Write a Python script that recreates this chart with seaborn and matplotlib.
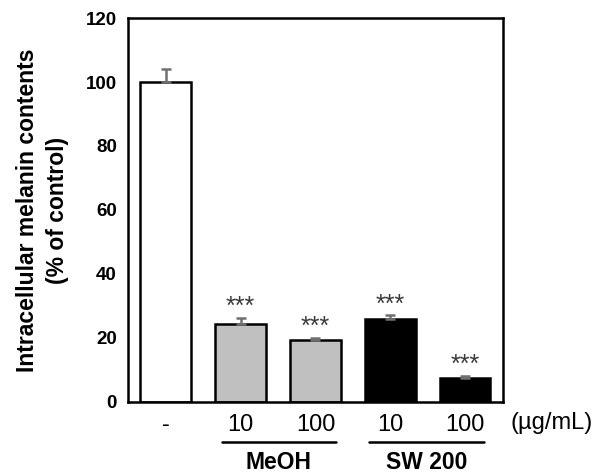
import matplotlib

matplotlib.use("Agg")
import matplotlib.pyplot as plt
import pandas as pd
import seaborn as sns

groups = ["Control", "MeOH 10", "MeOH 100", "SW200 10", "SW200 100"]
tick_labels = ["-", "10", "100", "10", "100"]
melanin = [100.0, 24.4, 19.2, 25.9, 7.6]
sd = [4.0, 1.9, 0.8, 1.1, 0.5]
bar_colors = ["white", "#c0c0c0", "#c0c0c0", "black", "black"]
stars = ["", "***", "***", "***", "***"]

df = pd.DataFrame({"group": groups, "melanin": melanin})

sns.set_theme(style="white")
plt.rcParams["font.family"] = ["Liberation Sans", "DejaVu Sans"]
plt.rcParams["text.color"] = "black"
plt.rcParams["xtick.color"] = "black"
plt.rcParams["ytick.color"] = "black"
plt.rcParams["axes.labelcolor"] = "black"

fig = plt.figure(figsize=(5.93, 4.75), dpi=100)
ax = fig.add_axes([0.216, 0.154, 0.632, 0.808])

sns.barplot(
    data=df, x="group", y="melanin", hue="group", palette=bar_colors,
    width=0.67, edgecolor="black", linewidth=1.8, legend=False, ax=ax,
)
ax.errorbar(
    range(len(groups)), melanin, yerr=[[0] * len(sd), sd], fmt="none",
    ecolor="#707070", elinewidth=1.8, capsize=3.5, capthick=1.8, zorder=1,
)
for i, (v, e, s) in enumerate(zip(melanin, sd, stars)):
    if s:
        ax.text(i, v + e - 0.4, s, ha="center", va="bottom",
                fontsize=18, color="#3a3a3a")

ax.set_xlim(-0.5, 4.5)
ax.set_ylim(0, 120)
ax.set_yticks(range(0, 121, 20))
ax.tick_params(axis="y", direction="in", length=4, width=1.2, labelsize=13.5, pad=8)
ax.tick_params(axis="x", length=0, labelsize=17, pad=9)
for lbl in ax.get_yticklabels():
    lbl.set_fontweight("bold")
ax.set_xticks(range(len(groups)))
ax.set_xticklabels(tick_labels)
for spine in ax.spines.values():
    spine.set_linewidth(1.8)
    spine.set_color("black")

ax.set_xlabel("")
ax.set_ylabel("Intracellular melanin contents\n(% of control)",
              fontsize=16.5, fontweight="bold", labelpad=12, linespacing=1.4)

ax.text(4.6, -6.5, "(µg/mL)", ha="left", va="center", fontsize=17,
        transform=ax.transData, clip_on=False)

trans = ax.get_xaxis_transform()
for x0, x1, name in [(0.75, 2.27, "MeOH"), (2.72, 4.25, "SW 200")]:
    ax.plot([x0, x1], [-0.105, -0.105], color="black", linewidth=1.8,
            transform=trans, clip_on=False)
    ax.text((x0 + x1) / 2, -0.158, name, ha="center", va="center",
            fontsize=16.5, fontweight="bold", transform=trans)

fig.savefig("out.png", dpi=100)
